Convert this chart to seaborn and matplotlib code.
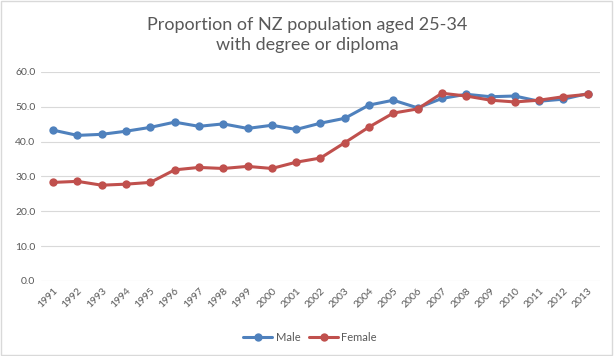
import seaborn as sns
import pandas as pd
import matplotlib.pyplot as plt
from matplotlib.patches import Rectangle

years = [str(y) for y in range(1991, 2014)]
male = [43.3, 41.8, 42.1, 43.0, 44.1, 45.6, 44.4, 45.1, 43.8, 44.7, 43.5, 45.3,
        46.7, 50.5, 51.9, 49.7, 52.4, 53.6, 52.9, 53.1, 51.6, 52.2, 53.8]
female = [28.3, 28.6, 27.5, 27.8, 28.3, 31.9, 32.6, 32.3, 32.9, 32.3, 34.1, 35.3,
          39.7, 44.2, 48.2, 49.4, 53.9, 53.1, 51.9, 51.4, 51.9, 52.9, 53.6]

df = pd.DataFrame({
    "year": years * 2,
    "value": male + female,
    "sex": ["Male"] * len(years) + ["Female"] * len(years),
})

grey = "#595959"
sns.set_theme(style="white")
plt.rcParams["font.family"] = ["Lato", "DejaVu Sans"]

fig = plt.figure(figsize=(6.14, 3.56), dpi=100)
ax = fig.add_axes([0.0668, 0.2107, 0.9102, 0.5871])

sns.lineplot(data=df, x="year", y="value", hue="sex", style="sex",
             palette={"Male": "#4F81BD", "Female": "#C0504D"},
             markers={"Male": "o", "Female": "o"}, dashes=False,
             linewidth=2.2, markersize=6, markeredgewidth=0,
             ax=ax, legend=True)

ax.set_xlim(-0.5, len(years) - 0.5)
ax.set_ylim(0, 60)
ax.set_yticks(range(0, 61, 10))
ax.set_yticklabels([f"{v:.1f}" for v in range(0, 61, 10)])
ax.yaxis.grid(True, color="#d9d9d9", linewidth=0.8)
ax.set_axisbelow(True)
for s in ax.spines.values():
    s.set_visible(False)
ax.set_xlabel("")
ax.set_ylabel("")
ax.tick_params(axis="both", length=0, labelsize=7.5, colors=grey, pad=4)
plt.setp(ax.get_xticklabels(), rotation=45, ha="right", rotation_mode="anchor")

handles, labels = ax.get_legend_handles_labels()
ax.legend_.remove()
fig.legend(handles, labels, loc="center", bbox_to_anchor=(0.505, 0.053),
           ncol=2, frameon=False, fontsize=8, labelcolor=grey,
           handlelength=2.6, columnspacing=0.8, handletextpad=0.3)

fig.text(0.5, 0.902, "Proportion of NZ population aged 25-34\nwith degree or diploma",
         ha="center", va="center", fontsize=13, color=grey, linespacing=1.35)

fig.patches.append(Rectangle((0.002, 0.003), 0.994, 0.994, transform=fig.transFigure,
                             fill=False, edgecolor="#d9d9d9", linewidth=1))

fig.savefig("out.png", dpi=100)
